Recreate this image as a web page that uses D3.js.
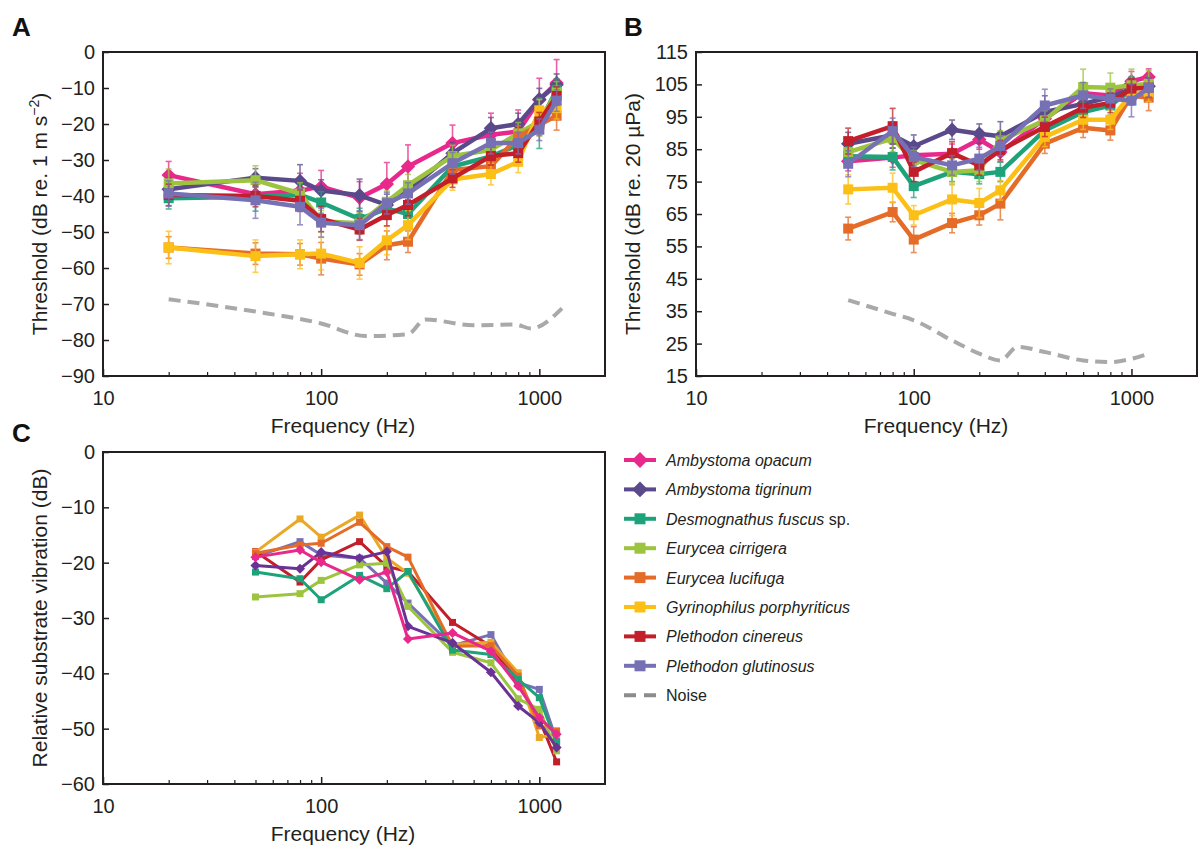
<!DOCTYPE html>
<html>
<head>
<meta charset="utf-8">
<script src="https://cdn.jsdelivr.net/npm/d3@7"></script>
<style>
  body { margin: 0; background: #fff; }
  svg { font-family: "Liberation Sans", Arial, sans-serif; }
</style>
</head>
<body>
<div id="chart"></div>
<script>
// frequencies (Hz)
const freqA = [20, 50, 80, 100, 150, 200, 250, 400, 600, 800, 1000, 1200];
const freqBC = [50, 80, 100, 150, 200, 250, 400, 600, 800, 1000, 1200];

const species = [
  "Ambystoma opacum", "Ambystoma tigrinum", "Desmognathus fuscus", "Eurycea cirrigera",
  "Eurycea lucifuga", "Gyrinophilus porphyriticus", "Plethodon cinereus", "Plethodon glutinosus"
];
const speciesSuffix = ["", "", " sp.", "", "", "", "", ""];
const shapes = ["diamond", "diamond", "square", "square", "square", "square", "square", "square"];

// A: vibration thresholds (dB re. 1 m s-2)
const threshA = [
  [-34.2, -39.5, -38.5, -37.4, -40.5, -36.7, -31.8, -25.3, -23.0, -22.1, -13.3, -8.6],
  [-38.1, -34.9, -35.8, -38.5, -39.8, -42.5, -38.5, -28.1, -21.2, -20.0, -13.1, -9.1],
  [-40.6, -40.2, -39.7, -41.8, -46.4, -43.5, -45.0, -31.8, -29.0, -25.8, -19.8, -10.5],
  [-36.5, -35.6, -39.3, -47.0, -47.6, -41.6, -37.0, -28.9, -27.2, -22.6, -19.3, -11.2],
  [-54.3, -56.0, -56.2, -57.4, -59.0, -53.7, -52.7, -32.8, -31.7, -23.5, -20.2, -17.7],
  [-54.3, -56.7, -56.2, -56.0, -58.6, -52.3, -48.1, -35.4, -33.9, -30.5, -16.2, -15.6],
  [-39.7, -40.0, -41.3, -46.4, -49.3, -45.3, -42.5, -35.1, -28.9, -28.1, -19.3, -12.2],
  [-39.3, -41.2, -43.0, -47.4, -48.1, -42.0, -39.3, -30.9, -25.3, -25.3, -21.6, -13.5]
];
const errA = [
  [3.8, 2.0, 4.8, 4.5, 4.5, 6.0, 6.0, 5.0, 6.0, 6.0, 6.0, 6.5],
  [3.0, 2.5, 4.5, 3.0, 4.5, 3.0, 2.5, 3.0, 3.0, 3.0, 3.0, 3.0],
  [3.0, 4.0, 3.0, 3.0, 3.0, 3.0, 3.0, 3.0, 3.0, 3.0, 7.0, 3.0],
  [4.0, 4.0, 3.0, 3.0, 3.0, 3.0, 3.0, 3.0, 3.0, 3.0, 4.0, 3.0],
  [3.0, 3.0, 3.0, 4.5, 3.0, 4.0, 3.0, 3.0, 3.0, 3.0, 3.0, 4.0],
  [4.5, 4.5, 4.0, 4.5, 4.5, 4.0, 4.0, 3.0, 3.0, 3.0, 3.0, 3.0],
  [3.0, 3.0, 3.0, 3.5, 3.0, 3.0, 3.0, 2.5, 2.5, 2.5, 2.5, 2.5],
  [3.5, 5.0, 5.0, 4.0, 4.0, 3.0, 3.0, 3.0, 3.0, 3.0, 3.0, 3.0]
];
const noiseFreqA = [20, 50, 100, 160, 250, 300, 500, 775, 915, 1270];
const noiseA = [-68.7, -72.1, -75.4, -78.9, -78.4, -74.3, -75.9, -75.7, -76.8, -71.2];

// B: sound thresholds (dB re. 20 µPa)
const threshB = [
  [81.3, 82.4, 83.1, 83.6, 88.0, 84.1, 94.4, 102.3, 101.6, 106.0, 107.3],
  [86.7, 89.3, 85.9, 91.0, 89.8, 89.0, 96.5, 99.0, 101.1, 103.7, 104.4],
  [82.8, 82.6, 73.6, 78.0, 77.3, 78.0, 90.8, 96.5, 98.5, 103.4, 104.7],
  [84.1, 88.3, 81.6, 78.0, 78.5, 87.7, 93.9, 104.2, 104.0, 104.7, 105.2],
  [60.5, 65.6, 57.1, 62.2, 64.6, 68.2, 86.7, 91.6, 90.8, 101.6, 100.9],
  [72.6, 73.1, 64.6, 69.5, 68.4, 72.3, 88.8, 94.1, 94.1, 102.1, 102.7],
  [87.5, 92.1, 78.0, 83.8, 80.0, 84.7, 91.9, 97.8, 99.3, 103.7, 104.0],
  [80.5, 90.6, 82.6, 80.0, 82.1, 86.0, 98.5, 101.6, 100.6, 100.0, 104.0]
];
const errB = [
  [3.0, 3.0, 3.0, 3.0, 3.0, 3.0, 3.0, 3.0, 3.0, 3.0, 2.5],
  [3.5, 4.0, 3.5, 3.0, 3.0, 4.5, 5.0, 3.0, 3.0, 3.0, 2.5],
  [3.0, 4.0, 3.5, 3.0, 3.0, 3.0, 3.0, 3.0, 3.0, 4.0, 3.0],
  [3.0, 4.0, 3.0, 4.0, 3.5, 3.0, 3.0, 5.5, 4.5, 5.0, 4.0],
  [3.5, 3.0, 4.0, 3.0, 3.0, 5.0, 3.0, 3.0, 3.0, 3.0, 4.0],
  [4.5, 4.5, 3.0, 5.0, 4.5, 3.0, 3.0, 3.0, 3.0, 3.0, 3.0],
  [4.0, 5.5, 3.0, 3.5, 3.0, 3.0, 3.0, 3.0, 3.0, 3.0, 3.0],
  [4.0, 4.0, 3.0, 3.0, 3.5, 3.0, 5.0, 4.0, 3.0, 5.0, 3.0]
];
const noiseFreqB = [50, 80, 100, 150, 200, 250, 300, 400, 600, 800, 1000, 1200];
const noiseB = [38.4, 34.2, 32.2, 26.0, 21.9, 19.8, 24.0, 22.4, 19.8, 19.3, 20.3, 21.9];

// C: relative substrate vibration (dB)
const relC = [
  [-19.0, -17.7, -19.9, -23.1, -21.7, -33.8, -32.7, -36.0, -42.3, -48.0, -51.0],
  [-20.5, -21.1, -18.1, -19.2, -18.0, -31.5, -34.5, -39.8, -45.9, -48.9, -53.4],
  [-21.7, -22.9, -26.7, -22.3, -24.7, -21.6, -35.8, -36.6, -41.1, -44.4, -52.5],
  [-26.2, -25.6, -23.2, -20.4, -20.1, -27.9, -36.2, -38.1, -44.6, -46.5, -54.0],
  [-18.3, -16.8, -16.5, -12.7, -17.1, -19.0, -35.1, -35.0, -40.5, -49.5, -50.4],
  [-18.1, -12.1, -15.4, -11.4, -19.2, -21.9, -34.8, -34.4, -39.9, -51.6, -51.0],
  [-18.0, -23.5, -19.5, -16.2, -20.7, -21.6, -30.8, -35.1, -41.7, -48.3, -56.0],
  [-18.9, -16.2, -18.6, -19.2, -23.7, -27.3, -35.0, -33.0, -41.7, -42.9, -52.2]
];

const yTicksA = d3.range(-90, 1, 10);
const yTicksB = d3.range(15, 116, 10);
const yTicksC = d3.range(-60, 1, 10);
const xMajor = [10, 100, 1000];
const xMinor = [20, 30, 40, 50, 60, 70, 80, 90, 200, 300, 400, 500, 600, 700, 800, 900];

const palette = ["#e8298b", "#5b4a8b", "#1ea27a", "#9cc43e", "#e46c28", "#fbbf16", "#c21f2b", "#7670b5"];
const paletteC = ["#e8298b", "#6b3296", "#1ea27a", "#9cc43e", "#e46c28", "#e9a825", "#c21f2b", "#7670b5"];
const noiseColor = "#a9a9a9";
const ink = "#231f20";

const svg = d3.select("#chart").append("svg")
  .attr("width", 1199)
  .attr("height", 848);

function diamondPath(r) {
  return `M0,${-r}L${r},0L0,${r}L${-r},0Z`;
}
function markerPath(shape, s) {
  return shape === "diamond" ? diamondPath(s * 0.72) : d3.symbol(d3.symbolSquare, s * s)();
}

function makePanel(box, yDomain, yTicks) {
  const x = d3.scaleLog().domain([10, 2000]).range([box.left, box.right]);
  const y = d3.scaleLinear().domain(yDomain).range([box.bottom, box.top]);
  const g = svg.append("g");

  const yAxis = g.append("g")
    .attr("transform", `translate(${box.left},0)`)
    .call(d3.axisLeft(y).tickValues(yTicks).tickSizeInner(-6).tickSizeOuter(0).tickPadding(8));
  yAxis.select(".domain").remove();
  yAxis.selectAll("text").attr("font-size", 20).attr("fill", ink);
  yAxis.selectAll("line").attr("stroke", ink).attr("stroke-width", 1.5);

  const xAxis = g.append("g")
    .attr("transform", `translate(0,${box.bottom})`)
    .call(d3.axisBottom(x).tickValues(xMajor).tickFormat(d3.format("d")).tickSizeInner(-7).tickSizeOuter(0).tickPadding(15));
  xAxis.select(".domain").remove();
  xAxis.selectAll("text").attr("font-size", 20).attr("fill", ink);
  xAxis.selectAll("line").attr("stroke", ink).attr("stroke-width", 1.5);

  const xMin = g.append("g")
    .attr("transform", `translate(0,${box.bottom})`)
    .call(d3.axisBottom(x).tickValues(xMinor).tickFormat("").tickSizeInner(-4).tickSizeOuter(0));
  xMin.select(".domain").remove();
  xMin.selectAll("line").attr("stroke", ink).attr("stroke-width", 1.2);

  g.append("text")
    .attr("x", box.left + 240).attr("y", box.bottom + 57)
    .attr("text-anchor", "middle").attr("font-size", 21).attr("fill", ink)
    .text("Frequency (Hz)");

  const plot = svg.append("g");
  svg.append("rect")
    .attr("x", box.left).attr("y", box.top)
    .attr("width", box.right - box.left).attr("height", box.bottom - box.top)
    .attr("fill", "none").attr("stroke", ink).attr("stroke-width", 2);
  return { x, y, plot };
}

function drawNoise(p, freqs, vals) {
  p.plot.append("path")
    .datum(freqs.map((f, i) => [f, vals[i]]))
    .attr("fill", "none")
    .attr("stroke", noiseColor)
    .attr("stroke-width", 4)
    .attr("stroke-dasharray", "12,7")
    .attr("d", d3.line().x(d => p.x(d[0])).y(d => p.y(d[1])).curve(d3.curveMonotoneX));
}

function drawSeries(p, freqs, vals, errs, colors, order, lw, ms) {
  order.forEach(k => {
    const pts = freqs.map((f, i) => ({ f, v: vals[k][i], e: errs ? errs[k][i] : 0 }));
    const s = p.plot.append("g");
    if (errs) {
      const eb = s.selectAll(".eb").data(pts).enter().append("g")
        .attr("stroke", colors[k]).attr("stroke-width", 1.6).attr("opacity", 0.75);
      eb.append("line")
        .attr("x1", d => p.x(d.f)).attr("x2", d => p.x(d.f))
        .attr("y1", d => p.y(d.v - d.e)).attr("y2", d => p.y(d.v + d.e));
      eb.append("line")
        .attr("x1", d => p.x(d.f) - 3).attr("x2", d => p.x(d.f) + 3)
        .attr("y1", d => p.y(d.v - d.e)).attr("y2", d => p.y(d.v - d.e));
      eb.append("line")
        .attr("x1", d => p.x(d.f) - 3).attr("x2", d => p.x(d.f) + 3)
        .attr("y1", d => p.y(d.v + d.e)).attr("y2", d => p.y(d.v + d.e));
    }
    s.append("path")
      .datum(pts)
      .attr("fill", "none")
      .attr("stroke", colors[k])
      .attr("stroke-width", lw)
      .attr("stroke-linejoin", "round")
      .attr("d", d3.line().x(d => p.x(d.f)).y(d => p.y(d.v)));
    s.selectAll(".m").data(pts).enter().append("path")
      .attr("transform", d => `translate(${p.x(d.f)},${p.y(d.v)})`)
      .attr("d", markerPath(shapes[k], ms))
      .attr("fill", colors[k]);
  });
}

function yTitle(x, y, parts) {
  const t = svg.append("text")
    .attr("transform", `translate(${x},${y}) rotate(-90)`)
    .attr("text-anchor", "middle").attr("font-size", 21).attr("fill", ink);
  parts.forEach(pt => {
    const ts = t.append("tspan").text(pt.text);
    if (pt.sup) ts.attr("font-size", 14).attr("baseline-shift", "super");
  });
}

function letter(x, y, s) {
  svg.append("text").attr("x", x).attr("y", y)
    .attr("font-size", 26).attr("font-weight", "bold").attr("fill", "#111").text(s);
}

const order = d3.range(8);

// Panel A
const pA = makePanel({ left: 103, right: 605, top: 52, bottom: 376 }, [-90, 0], yTicksA);
drawNoise(pA, noiseFreqA, noiseA);
drawSeries(pA, freqA, threshA, errA, palette, order, 4.5, 10);
yTitle(47, 214, [{ text: "Threshold (dB  re. 1 m s" }, { text: "−2", sup: true }, { text: ")" }]);
letter(12, 36, "A");

// Panel B
const pB = makePanel({ left: 696, right: 1197, top: 52, bottom: 376 }, [15, 115], yTicksB);
drawNoise(pB, noiseFreqB, noiseB);
drawSeries(pB, freqBC, threshB, errB, palette, order, 4.5, 10);
yTitle(640, 214, [{ text: "Threshold (dB re. 20 µPa)" }]);
letter(624, 36, "B");

// Panel C
const pC = makePanel({ left: 103, right: 605, top: 452, bottom: 784 }, [-60, 0], yTicksC);
drawSeries(pC, freqBC, relC, null, paletteC, order.slice().reverse(), 3, 7);
yTitle(47, 618, [{ text: "Relative substrate vibration (dB)" }]);
letter(12, 442, "C");

// Legend
const legend = svg.append("g").attr("transform", "translate(624,460)");
species.forEach((name, k) => {
  const row = legend.append("g").attr("transform", `translate(0,${k * 29.4})`);
  row.append("line").attr("x1", 0).attr("x2", 32).attr("y1", 0).attr("y2", 0)
    .attr("stroke", palette[k]).attr("stroke-width", 4);
  row.append("path").attr("transform", "translate(16,0)")
    .attr("d", markerPath(shapes[k], 11)).attr("fill", palette[k]);
  const t = row.append("text").attr("x", 42).attr("y", 6)
    .attr("font-size", 16).attr("fill", ink);
  t.append("tspan").attr("font-style", "italic").text(name);
  if (speciesSuffix[k]) t.append("tspan").text(speciesSuffix[k]);
});
const nRow = legend.append("g").attr("transform", `translate(0,${8 * 29.4})`);
nRow.append("line").attr("x1", 0).attr("x2", 32).attr("y1", 0).attr("y2", 0)
  .attr("stroke", "#8c8c8c").attr("stroke-width", 4).attr("stroke-dasharray", "12,8");
nRow.append("text").attr("x", 42).attr("y", 6).attr("font-size", 16).attr("fill", ink).text("Noise");
</script>
</body>
</html>
